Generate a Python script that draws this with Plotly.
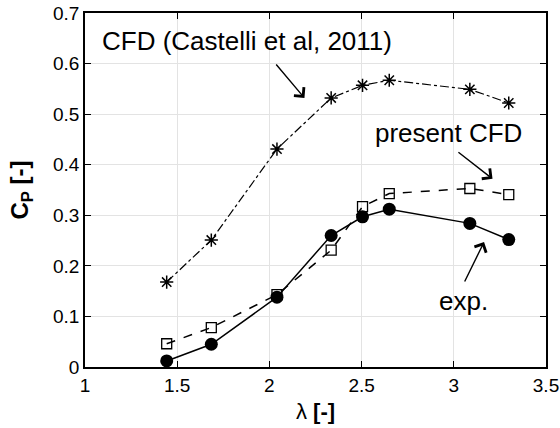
import plotly.graph_objects as go

tsr = [1.443, 1.685, 2.041, 2.335, 2.505, 2.650, 3.087, 3.298]
cp_castelli = [0.168, 0.251, 0.431, 0.532, 0.557, 0.567, 0.549, 0.522]
cp_present = [0.046, 0.078, 0.143, 0.231, 0.317, 0.343, 0.353, 0.341]
cp_exp = [0.012, 0.045, 0.138, 0.260, 0.297, 0.312, 0.284, 0.252]

x_ticks = [1, 1.5, 2, 2.5, 3, 3.5]
x_tick_labels = ["1", "1.5", "2", "2.5", "3", "3.5"]
y_ticks = [0, 0.1, 0.2, 0.3, 0.4, 0.5, 0.6, 0.7]
y_tick_labels = ["0", "0.1", "0.2", "0.3", "0.4", "0.5", "0.6", "0.7"]

font_family = "Liberation Sans, Arial, sans-serif"

fig = go.Figure()
fig.add_trace(go.Scatter(
    x=tsr, y=cp_castelli, mode="lines+markers",
    line=dict(color="black", width=1.2, dash="dashdot"),
    marker=dict(symbol="asterisk-open", size=11, color="black", line=dict(width=1.5, color="black")),
))
fig.add_trace(go.Scatter(
    x=tsr, y=cp_present, mode="lines+markers",
    line=dict(color="black", width=1.5, dash="dash"),
    marker=dict(symbol="square-open", size=10, color="black", line=dict(width=1.3, color="black")),
))
fig.add_trace(go.Scatter(
    x=tsr, y=cp_exp, mode="lines+markers",
    line=dict(color="black", width=1.5),
    marker=dict(symbol="circle", size=13, color="black"),
))

ann_font = dict(family=font_family, size=26, color="black")
arrow_style = dict(showarrow=True, arrowhead=4, arrowsize=1.8, arrowwidth=1.4, arrowcolor="black")
fig.add_annotation(x=1.083, y=0.645, text="CFD (Castelli et al, 2011)", showarrow=False,
                   xanchor="left", yanchor="middle", font=ann_font)
fig.add_annotation(x=2.19, y=0.532, ax=2.03, ay=0.601, xref="x", yref="y", axref="x", ayref="y",
                   text="", **arrow_style)
fig.add_annotation(x=2.563, y=0.463, text="present CFD", showarrow=False,
                   xanchor="left", yanchor="middle", font=ann_font)
fig.add_annotation(x=3.21, y=0.372, ax=3.017, ay=0.427, xref="x", yref="y", axref="x", ayref="y",
                   text="", **arrow_style)
fig.add_annotation(x=2.911, y=0.13, text="exp.", showarrow=False,
                   xanchor="left", yanchor="middle", font=ann_font)
fig.add_annotation(x=3.164, y=0.247, ax=3.055, ay=0.166, xref="x", yref="y", axref="x", ayref="y",
                   text="", **arrow_style)

axis_common = dict(
    showline=True, linecolor="black", linewidth=1.5, mirror="ticks",
    ticks="inside", ticklen=6, tickcolor="black", tickwidth=1.2,
    showgrid=True, gridcolor="#e3e3e3", gridwidth=1.2, zeroline=False,
    tickfont=dict(family=font_family, size=19, color="black"),
)
fig.update_xaxes(range=[1, 3.5], tickvals=x_ticks, ticktext=x_tick_labels,
                 title=dict(text="λ <b>[-]</b>", font=dict(family=font_family, size=22, color="black"), standoff=9),
                 **axis_common)
fig.update_yaxes(range=[0, 0.7], tickvals=y_ticks, ticktext=y_tick_labels,
                 title=dict(text="<b>C<sub>P</sub> [-]</b>", font=dict(family=font_family, size=24, color="black"), standoff=18),
                 **axis_common)
fig.update_layout(
    width=560, height=428, showlegend=False,
    margin=dict(l=85, r=14, t=13, b=61, autoexpand=False),
    plot_bgcolor="white", paper_bgcolor="white",
)
fig.write_html("out.html", config={"displayModeBar": False},
               post_script="document.body.style.margin='0';document.body.style.overflow='hidden';")
